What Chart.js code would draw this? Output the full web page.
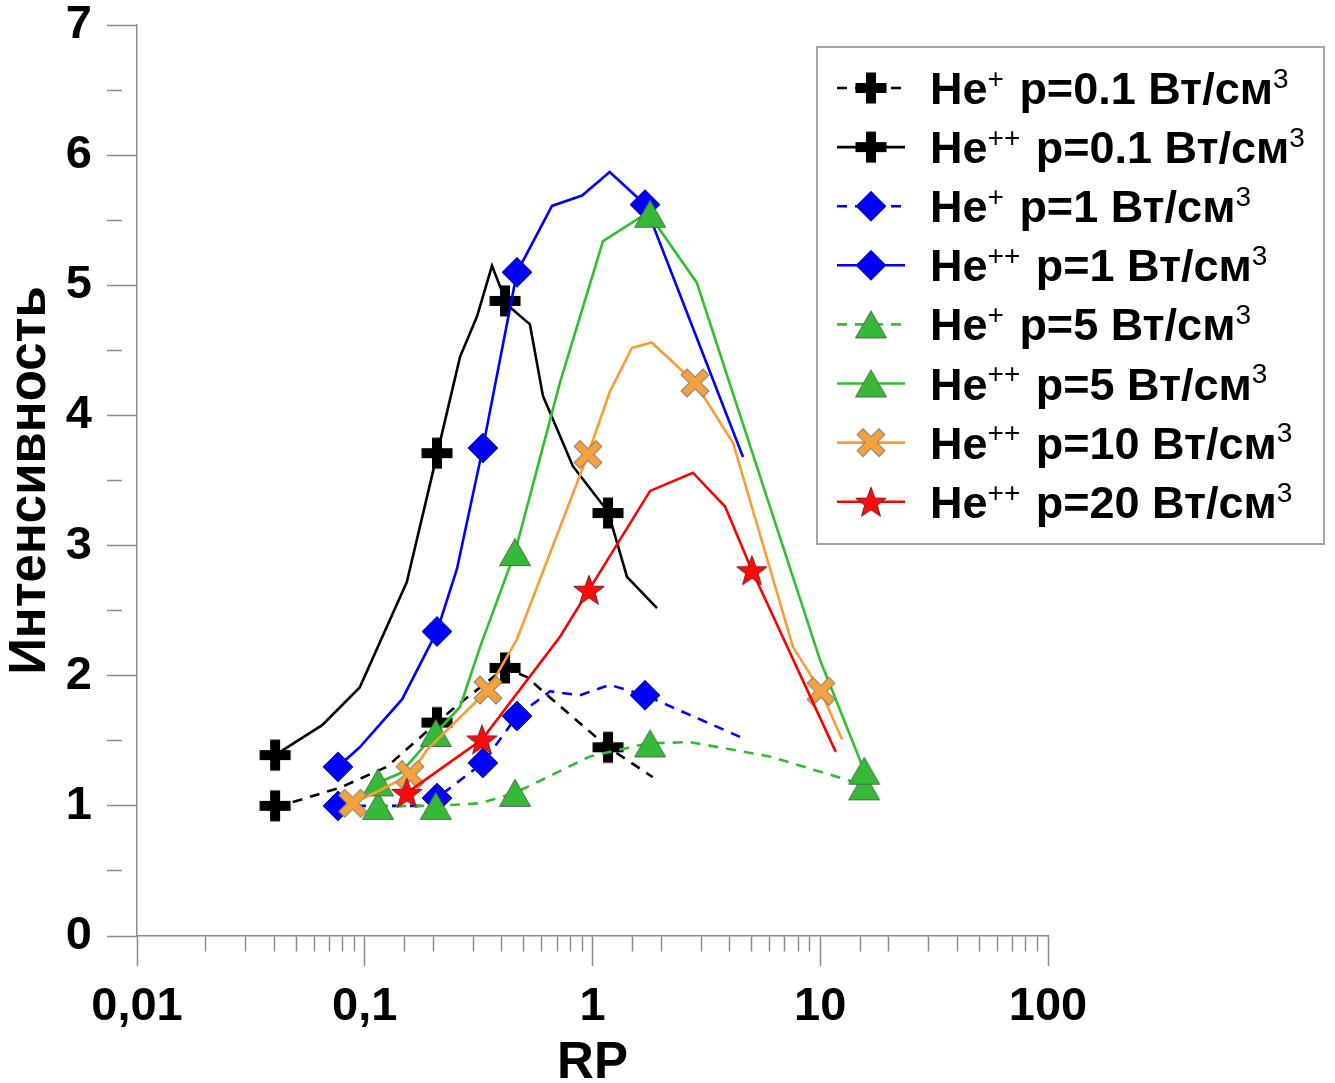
<!DOCTYPE html>
<html>
<head>
<meta charset="utf-8">
<script src="https://cdn.jsdelivr.net/npm/chart.js@4.4.1/dist/chart.umd.min.js"></script>
<style>
  html, body { margin: 0; padding: 0; background: #ffffff; }
  canvas { display: block; }
</style>
</head>
<body>
<canvas id="chart" width="1335" height="1083" style="width:1335px;height:1083px"></canvas>
<script>
// ---- Data: RP vs intensity, He+ / He++ lines at several power densities ----

// He+  p=0.1
const hePlus01LineX = [0.0404, 0.0484, 0.078, 0.125, 0.2075, 0.262, 0.30, 0.413, 0.516, 0.606, 1.17, 1.84];
const hePlus01LineY = [1.00, 1.03, 1.14, 1.30, 1.64, 1.79, 1.87, 2.06, 1.99, 1.88, 1.45, 1.22];
const hePlus01MarkX = [0.0404, 0.2075, 0.413, 1.17];
const hePlus01MarkY = [1.00, 1.64, 2.06, 1.45];

// He++ p=0.1
const heDbl01LineX = [0.0404, 0.065, 0.095, 0.153, 0.209, 0.262, 0.311, 0.362, 0.422, 0.531, 0.606, 0.82, 1.17, 1.417, 1.92];
const heDbl01LineY = [1.39, 1.62, 1.91, 2.72, 3.72, 4.45, 4.76, 5.15, 4.85, 4.70, 4.15, 3.61, 3.26, 2.76, 2.52];
const heDbl01MarkX = [0.0404, 0.2075, 0.413, 1.17];
const heDbl01MarkY = [1.39, 3.71, 4.88, 3.25];

// He+  p=1
const hePlus1LineX = [0.0763, 0.175, 0.2075, 0.33, 0.466, 0.651, 0.88, 1.19, 1.70, 4.58];
const hePlus1LineY = [1.00, 1.00, 1.06, 1.33, 1.69, 1.88, 1.85, 1.93, 1.85, 1.52];
const hePlus1MarkX = [0.0763, 0.2075, 0.33, 0.466, 1.70];
const hePlus1MarkY = [1.00, 1.06, 1.33, 1.69, 1.85];

// He++ p=1
const heDbl1LineX = [0.0763, 0.095, 0.146, 0.2075, 0.254, 0.33, 0.466, 0.664, 0.90, 1.19, 1.70, 4.58];
const heDbl1LineY = [1.30, 1.45, 1.82, 2.34, 2.82, 3.75, 5.10, 5.61, 5.69, 5.87, 5.62, 3.68];
const heDbl1MarkX = [0.0763, 0.2075, 0.33, 0.466, 1.70];
const heDbl1MarkY = [1.30, 2.34, 3.75, 5.10, 5.62];

// He+  p=5
const hePlus5LineX = [0.1144, 0.205, 0.3207, 0.457, 0.975, 1.75, 2.68, 6.0, 13.1, 15.6];
const hePlus5LineY = [1.00, 1.00, 1.02, 1.10, 1.38, 1.48, 1.49, 1.38, 1.20, 1.15];
const hePlus5MarkX = [0.1144, 0.205, 0.457, 1.79, 15.6];
const hePlus5MarkY = [1.00, 1.00, 1.10, 1.48, 1.15];

// He++ p=5
const heDbl5LineX = [0.1144, 0.143, 0.205, 0.262, 0.3207, 0.457, 0.719, 1.112, 1.75, 2.87, 9.98, 15.6];
const heDbl5LineY = [1.18, 1.25, 1.56, 1.76, 2.22, 2.95, 4.25, 5.34, 5.56, 5.02, 2.12, 1.27];
const heDbl5MarkX = [0.1144, 0.205, 0.457, 1.79, 15.6];
const heDbl5MarkY = [1.18, 1.56, 2.95, 5.55, 1.27];

// He++ p=10
const heDbl10LineX = [0.0885, 0.1167, 0.158, 0.1876, 0.3475, 0.466, 0.955, 1.19, 1.49, 1.82, 2.82, 4.14, 7.59, 10.07, 12.47];
const heDbl10LineY = [1.02, 1.12, 1.24, 1.43, 1.89, 2.28, 3.70, 4.18, 4.52, 4.56, 4.25, 3.79, 2.22, 1.88, 1.51];
const heDbl10MarkX = [0.0885, 0.158, 0.3475, 0.955, 2.82, 10.07];
const heDbl10MarkY = [1.02, 1.24, 1.89, 3.70, 4.25, 1.88];

// He++ p=20
const heDbl20LineX = [0.153, 0.327, 0.72, 0.965, 1.79, 2.76, 3.82, 5.01, 11.7];
const heDbl20LineY = [1.10, 1.51, 2.30, 2.66, 3.42, 3.56, 3.30, 2.81, 1.415];
const heDbl20MarkX = [0.153, 0.327, 0.965, 5.01];
const heDbl20MarkY = [1.10, 1.51, 2.66, 2.81];

const seriesLabels = [
  'He⁺ p=0.1 Вт/см³', 'He⁺⁺ p=0.1 Вт/см³',
  'He⁺ p=1 Вт/см³',   'He⁺⁺ p=1 Вт/см³',
  'He⁺ p=5 Вт/см³',   'He⁺⁺ p=5 Вт/см³',
  'He⁺⁺ p=10 Вт/см³', 'He⁺⁺ p=20 Вт/см³'
];

const xTickValues = [0.01, 0.1, 1, 10, 100];
const xTickLabels = ['0,01', '0,1', '1', '10', '100'];
const yTickValues = [0, 1, 2, 3, 4, 5, 6, 7];
const yTickLabels = ['0', '1', '2', '3', '4', '5', '6', '7'];

const xTitle = 'RP';
const yTitle = 'Интенсивность';

// ---- Styling ----
const FAMILY = '"Liberation Sans", Arial, Helvetica, sans-serif';
const AXIS_GRAY = '#8a8a8a';

function sprite(size, paint) {
  const c = document.createElement('canvas');
  c.width = size; c.height = size;
  const g = c.getContext('2d');
  paint(g, size / 2);
  return c;
}

const plusMarker = sprite(34, (g, c) => {
  g.fillStyle = '#000000';
  g.fillRect(c - 15.5, c - 5, 31, 10);
  g.fillRect(c - 5, c - 15.5, 10, 31);
});

const diamondMarker = sprite(34, (g, c) => {
  const r = 15;
  g.beginPath();
  g.moveTo(c, c - r); g.lineTo(c + r, c); g.lineTo(c, c + r); g.lineTo(c - r, c); g.closePath();
  g.fillStyle = '#0000ff'; g.fill();
  g.lineWidth = 1; g.strokeStyle = '#1c1c7a'; g.stroke();
});

const triangleMarker = sprite(36, (g, c) => {
  const w = 15.5, h = 27;
  g.beginPath();
  g.moveTo(c, c - h / 2); g.lineTo(c + w, c + h / 2); g.lineTo(c - w, c + h / 2); g.closePath();
  g.fillStyle = '#36b936'; g.fill();
  g.lineWidth = 1; g.strokeStyle = '#4a6a4a'; g.stroke();
});

const crossMarker = sprite(38, (g, c) => {
  const L = 15.5, t = 4.2;
  g.save();
  g.translate(c, c);
  g.rotate(Math.PI / 4);
  g.beginPath();
  g.moveTo(-t, -L); g.lineTo(t, -L); g.lineTo(t, -t); g.lineTo(L, -t); g.lineTo(L, t);
  g.lineTo(t, t); g.lineTo(t, L); g.lineTo(-t, L); g.lineTo(-t, t); g.lineTo(-L, t);
  g.lineTo(-L, -t); g.lineTo(-t, -t); g.closePath();
  g.fillStyle = '#f6a23c'; g.fill();
  g.lineWidth = 1; g.strokeStyle = '#7d7d7d'; g.stroke();
  g.restore();
});

const starMarker = sprite(36, (g, c) => {
  const ro = 16, ri = 6.6;
  g.beginPath();
  for (let k = 0; k < 10; k++) {
    const r = k % 2 === 0 ? ro : ri;
    const a = -Math.PI / 2 + k * Math.PI / 5;
    const px = c + r * Math.cos(a), py = c + 1.5 + r * Math.sin(a);
    if (k === 0) g.moveTo(px, py); else g.lineTo(px, py);
  }
  g.closePath();
  g.fillStyle = '#ff0a0a'; g.fill();
  g.lineWidth = 1; g.strokeStyle = '#6e2020'; g.stroke();
});

const DASH = [10, 8];

const seriesDefs = [
  { lx: hePlus01LineX, ly: hePlus01LineY, mx: hePlus01MarkX, my: hePlus01MarkY, color: '#000000', dash: DASH, marker: plusMarker },
  { lx: heDbl01LineX,  ly: heDbl01LineY,  mx: heDbl01MarkX,  my: heDbl01MarkY,  color: '#000000', dash: [],   marker: plusMarker },
  { lx: hePlus1LineX,  ly: hePlus1LineY,  mx: hePlus1MarkX,  my: hePlus1MarkY,  color: '#0000ff', dash: DASH, marker: diamondMarker },
  { lx: heDbl1LineX,   ly: heDbl1LineY,   mx: heDbl1MarkX,   my: heDbl1MarkY,   color: '#0000ff', dash: [],   marker: diamondMarker },
  { lx: hePlus5LineX,  ly: hePlus5LineY,  mx: hePlus5MarkX,  my: hePlus5MarkY,  color: '#2fc02f', dash: DASH, marker: triangleMarker },
  { lx: heDbl5LineX,   ly: heDbl5LineY,   mx: heDbl5MarkX,   my: heDbl5MarkY,   color: '#2fc02f', dash: [],   marker: triangleMarker },
  { lx: heDbl10LineX,  ly: heDbl10LineY,  mx: heDbl10MarkX,  my: heDbl10MarkY,  color: '#ff9a33', dash: [],   marker: crossMarker },
  { lx: heDbl20LineX,  ly: heDbl20LineY,  mx: heDbl20MarkX,  my: heDbl20MarkY,  color: '#ff0000', dash: [],   marker: starMarker }
];

const zip = (xs, ys) => xs.map((x, i) => ({ x: x, y: ys[i] }));

const datasets = [];
seriesDefs.forEach((s, i) => {
  datasets.push({
    label: seriesLabels[i],
    data: zip(s.lx, s.ly),
    borderColor: s.color,
    borderWidth: 2.6,
    borderDash: s.dash,
    pointRadius: 0,
    pointHoverRadius: 0,
    tension: 0,
    fill: false,
    order: -(2 * i)
  });
  datasets.push({
    label: seriesLabels[i] + ' ·',
    data: zip(s.mx, s.my),
    showLine: false,
    pointStyle: s.marker,
    pointRadius: 15,
    pointHoverRadius: 15,
    order: -(2 * i + 1)
  });
});

// White page background
const pageBackground = {
  id: 'pageBackground',
  beforeDraw(chart) {
    const ctx = chart.ctx;
    ctx.save();
    ctx.fillStyle = '#ffffff';
    ctx.fillRect(0, 0, chart.width, chart.height);
    ctx.restore();
  }
};

// Key box with line samples, markers and superscripted labels
const SUPERS = { '⁺': '+', '³': '3' };
function drawRichText(ctx, text, x, baseline, size, supSize) {
  const runs = [];
  let cur = '', curSup = null;
  for (const ch of text) {
    const isSup = ch in SUPERS;
    if (curSup !== null && isSup !== curSup) { runs.push([cur, curSup]); cur = ''; }
    curSup = isSup;
    cur += isSup ? SUPERS[ch] : ch;
  }
  if (cur) runs.push([cur, curSup]);
  for (const [t, sup] of runs) {
    ctx.font = sup ? `${supSize}px ${FAMILY}` : `bold ${size}px ${FAMILY}`;
    ctx.fillText(t, x, sup ? baseline - size * 0.36 : baseline);
    x += ctx.measureText(t).width + (sup ? 3 : 0);
  }
}

const seriesKey = {
  id: 'seriesKey',
  afterDraw(chart) {
    const ctx = chart.ctx;
    const box = { x: 817, y: 47, w: 507, h: 497 };
    ctx.save();
    ctx.fillStyle = '#ffffff';
    ctx.fillRect(box.x, box.y, box.w, box.h);
    ctx.strokeStyle = '#a3a3a3';
    ctx.lineWidth = 2;
    ctx.strokeRect(box.x, box.y, box.w, box.h);

    seriesDefs.forEach((s, i) => {
      const cy = 88 + i * 59.1;
      ctx.save();
      ctx.strokeStyle = s.color;
      ctx.lineWidth = 2.6;
      ctx.setLineDash(s.dash);
      ctx.beginPath();
      ctx.moveTo(837, cy);
      ctx.lineTo(905, cy);
      ctx.stroke();
      ctx.restore();
      ctx.drawImage(s.marker, 871 - s.marker.width / 2, cy - s.marker.height / 2);
      ctx.fillStyle = '#000000';
      ctx.textBaseline = 'alphabetic';
      ctx.textAlign = 'left';
      drawRichText(ctx, seriesLabels[i], 930, cy + 16, 45, 28);
    });
    ctx.restore();
  }
};

function nearly(a, b) { return Math.abs(a - b) < 1e-9 * Math.max(1, Math.abs(b)); }

new Chart(document.getElementById('chart'), {
  type: 'line',
  data: { datasets: datasets },
  plugins: [pageBackground, seriesKey],
  options: {
    responsive: false,
    animation: false,
    devicePixelRatio: 1,
    layout: { padding: { left: 0, top: 25, right: 287, bottom: 0 } },
    plugins: { legend: { display: false }, tooltip: { enabled: false } },
    scales: {
      x: {
        type: 'logarithmic',
        min: 0.01,
        max: 100,
        afterFit(scale) { scale.height = 147; },
        border: { color: AXIS_GRAY, width: 1.5 },
        grid: {
          drawOnChartArea: false,
          drawTicks: true,
          tickLength: 30,
          tickColor: AXIS_GRAY,
          tickWidth: 1.5,
          tickBorderDash: (ctx) => {
            const v = ctx.tick ? ctx.tick.value : 0;
            return xTickValues.some(t => nearly(v, t)) ? [] : [15, 200];
          }
        },
        ticks: {
          autoSkip: false,
          maxRotation: 0,
          minRotation: 0,
          padding: 13,
          color: '#000000',
          font: { family: FAMILY, size: 47, weight: 'bold', lineHeight: 1.2 },
          callback: (value) => {
            const idx = xTickValues.findIndex(t => nearly(value, t));
            return idx >= 0 ? xTickLabels[idx] : '';
          }
        },
        title: {
          display: true,
          text: xTitle,
          color: '#000000',
          padding: 0,
          font: { family: FAMILY, size: 51, weight: 'bold', lineHeight: 0.74 }
        }
      },
      y: {
        type: 'linear',
        min: 0,
        max: 7,
        afterFit(scale) {
          scale.width = 137;
          scale.paddingTop = 0;
          scale.paddingBottom = 0;
        },
        border: { color: AXIS_GRAY, width: 1.5 },
        grid: {
          drawOnChartArea: false,
          drawTicks: true,
          tickLength: 30,
          tickColor: AXIS_GRAY,
          tickWidth: 1.5,
          tickBorderDash: (ctx) => {
            const v = ctx.tick ? ctx.tick.value : 0;
            return yTickValues.some(t => nearly(v, t)) ? [] : [15, 200];
          }
        },
        ticks: {
          autoSkip: false,
          stepSize: 0.5,
          padding: 15,
          color: '#000000',
          font: { family: FAMILY, size: 47, weight: 'bold', lineHeight: 1.2 },
          callback: (value) => {
            const idx = yTickValues.findIndex(t => nearly(value, t));
            return idx >= 0 ? yTickLabels[idx] : '';
          }
        },
        title: {
          display: true,
          text: yTitle,
          color: '#000000',
          padding: 0,
          font: { family: FAMILY, size: 51, weight: 'bold', lineHeight: 1.2 }
        }
      }
    }
  }
});
</script>
</body>
</html>
